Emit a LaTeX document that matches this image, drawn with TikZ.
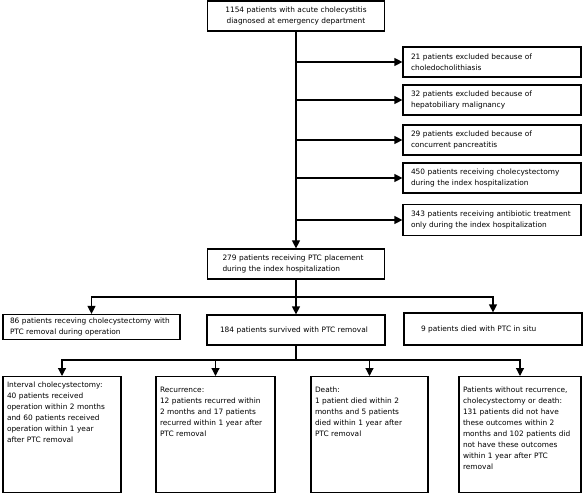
\documentclass[tikz,border=0pt]{standalone}
\usepackage{fontspec}
\setmainfont{DejaVu Sans}
\usetikzlibrary{arrows.meta, positioning, calc}

\begin{document}
\begin{tikzpicture}[
    x=1pt, y=-1pt,
    box/.style={rectangle, draw, line width=1.2pt, font=\fontsize{7.4}{11}\selectfont,
                align=left, inner xsep=8pt, minimum height=30pt},
    exbox/.style={box, text width=162pt},
    outbox/.style={box, anchor=north, inner xsep=4pt, inner ysep=6pt,
                text height=10pt, text depth=94pt},
    arr/.style={-{Triangle[length=8pt,width=8pt]}, line width=1.2pt}
]
    \useasboundingbox (0,0) rectangle (583,494);

    % Admission
    \node[box, align=center, text width=161pt] (admit) at (296,16) {
        1154 patients with acute cholecystitis\\
        diagnosed at emergency department
    };

    % Exclusions
    \node[exbox] (ex1) at (492,62) {21 patients excluded because of\\choledocholithiasis};
    \node[exbox] (ex2) at (492,100) {32 patients excluded because of\\hepatobiliary malignancy};
    \node[exbox] (ex3) at (492,140) {29 patients excluded because of\\concurrent pancreatitis};
    \node[exbox] (ex4) at (492,178) {450 patients receiving cholecystectomy\\during the index hospitalization};
    \node[exbox, minimum height=31pt] (ex5) at (492,220) {343 patients receiving antibiotic treatment\\only during the index hospitalization};

    % PTC placement
    \node[box, text width=147pt, inner xsep=15pt] (ptc) at (296,264) {
        279 patients receiving PTC placement\\
        during the index hospitalization
    };

    % After PTC
    \node[box, text width=163pt, inner xsep=7pt, inner ysep=2pt, minimum height=25pt] (lap) at (91.5,327) {
        86 patients receving cholecystectomy with\\
        PTC removal during operation
    };
    \node[box, text width=152pt, inner xsep=13pt] (survive) at (296,330) {184 patients survived with PTC removal};
    \node[box, text width=144pt, inner xsep=17pt, minimum height=32pt] (died) at (493,329) {9 patients died with PTC in situ};

    % Outcomes
    \node[outbox, text width=110pt, text height=5pt, text depth=99pt] (interval) at (62,376) {
        Interval cholecystectomy:\\
        40 patients received\\
        operation within 2 months\\
        and 60 patients received\\
        operation within 1 year\\
        after PTC removal
    };
    \node[outbox, text width=111pt] (recur) at (215.5,376) {
        Recurrence:\\
        12 patients recurred within\\
        2 months and 17 patients\\
        recurred within 1 year after\\
        PTC removal
    };
    \node[outbox, text width=109pt] (death) at (369.5,376) {
        Death:\\
        1 patient died within 2\\
        months and 5 patients\\
        died within 1 year after\\
        PTC removal
    };
    \node[outbox, text width=114pt] (none) at (520,376) {
        Patients without recurrence,\\
        cholecystectomy or death:\\
        131 patients did not have\\
        these outcomes within 2\\
        months and 102 patients did\\
        not have these outcomes\\
        within 1 year after PTC\\
        removal
    };

    % Arrows
    \draw[arr] (admit) -- (ptc);
    \foreach \e in {ex1,ex2,ex3,ex4,ex5}
        \draw[arr] (admit.south |- \e.west) -- (\e.west);

    \coordinate (fork) at ($(ptc.south)!0.5!(survive.north)$);
    \draw[arr] (ptc) -- (survive);
    \draw[arr] (fork) -| (lap);
    \draw[arr] (fork) -| (died);

    \coordinate (fork2) at (survive.south |- 0,360);
    \draw[line width=1.2pt] (survive) -- (fork2);
    \foreach \o in {interval,recur,death,none}
        \draw[arr] (fork2) -| (\o);
\end{tikzpicture}
\end{document}
